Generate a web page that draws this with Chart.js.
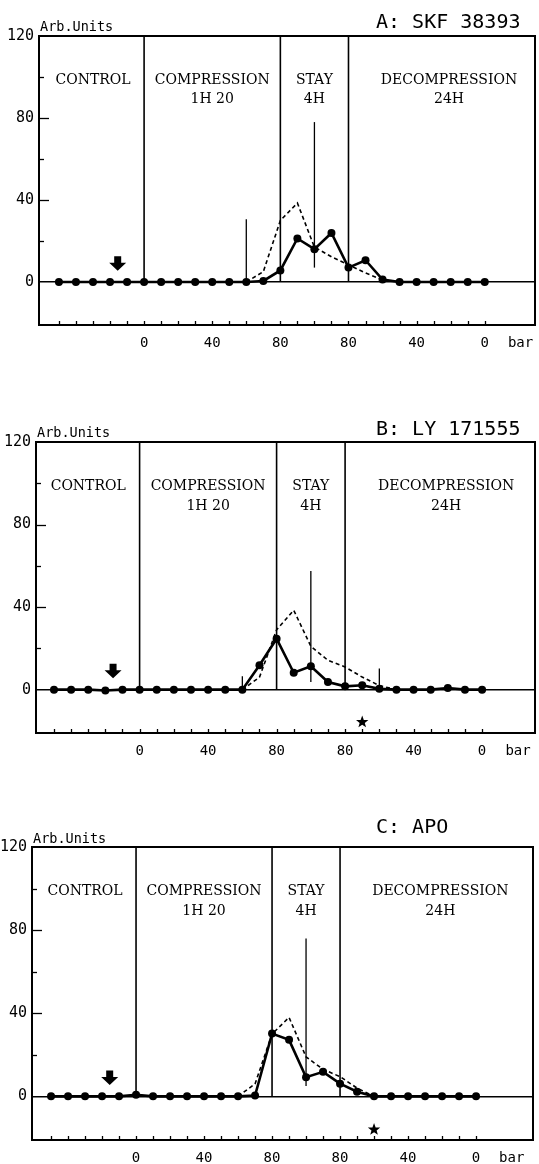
<!DOCTYPE html>
<html>
<head>
<meta charset="utf-8">
<title>Arb.Units - A: SKF 38393 / B: LY 171555 / C: APO</title>
<script src="https://cdn.jsdelivr.net/npm/chart.js@4.4.1/dist/chart.umd.min.js"></script>
<style>
  html, body { margin: 0; padding: 0; background: #fff; }
  body { width: 539px; height: 1164px; position: relative; overflow: hidden; }
  .panel { position: absolute; left: 0; width: 539px; }
  #panelA { top: 0; height: 355px; }
  #panelB { top: 400px; height: 365px; }
  #panelC { top: 800px; height: 364px; }
</style>
</head>
<body>
<div class="panel" id="panelA"><canvas id="chartA"></canvas></div>
<div class="panel" id="panelB"><canvas id="chartB"></canvas></div>
<div class="panel" id="panelC"><canvas id="chartC"></canvas></div>

<script>
// ---- Shared axis data ----
const sampleIdx = [0, 1, 2, 3, 4, 5, 6, 7, 8, 9, 10, 11, 12, 13, 14, 15, 16, 17, 18, 19, 20, 21, 22, 23, 24, 25];
const pressureTickIdx = [5, 9, 13, 17, 21, 25];
const pressureTickLabels = ["0", "40", "80", "80", "40", "0"];
const unitTickIdx = 27.1;
const unitTickLabel = "bar";
const yLabelValues = [0, 40, 80, 120];
const phaseBoundIdx = [5, 13, 17];
const phaseNames = ["CONTROL", "COMPRESSION", "STAY", "DECOMPRESSION"];
const phaseDurations = ["", "1H 20", "4H", "24H"];
const phaseCenterIdx = [2, 9, 15, 22.9];
const arrowIdx = 3.45, arrowTip = 5.5, arrowTop = 12.5;

// ---- Panel A ----
const titleA = "A: SKF 38393";
const drugA = [0, 0, 0, 0, 0, 0, 0, 0, 0, 0, 0, 0, 0.5, 5.6, 21.2, 16, 23.9, 7, 10.6, 1.2, 0, 0, 0, 0, 0, 0];
const refA = [null, null, null, null, null, null, null, null, null, null, null, 0, 5, 30, 38.5, 17, 12.3, 8.3, 4.4, 1, 0, null, null, null, null, null];
const spikeIdxA = [11, 15];
const spikeLowA = [0, 7];
const spikeHighA = [30.6, 78];
const starIdxA = [];
const starValA = [];

// ---- Panel B ----
const titleB = "B: LY 171555";
const drugB = [0, 0, 0, -0.4, 0, 0, 0, 0, 0, 0, 0, 0, 11.8, 24.7, 8.2, 11.3, 3.7, 1.6, 2.1, 0.4, 0, 0, 0, 0.8, 0, 0];
const refB = [null, null, null, null, null, null, null, null, null, null, null, 0, 6, 29, 38.5, 21, 14.2, 11, 6.1, 2, 0, null, null, null, null, null];
const spikeIdxB = [11, 15, 19];
const spikeLowB = [0, 3.7, 0];
const spikeHighB = [6.5, 57.5, 10.2];
const starIdxB = [18];
const starValB = [-15.7];

// ---- Panel C ----
const titleC = "C: APO";
const drugC = [0, 0, 0, 0, 0, 0.8, 0, 0, 0, 0, 0, 0, 0.4, 30.2, 27.2, 9.2, 11.8, 6.1, 2.2, 0, 0, 0, 0, 0, 0, 0];
const refC = [null, null, null, null, null, null, null, null, null, null, null, 0, 6, 30, 38, 19, 13, 9.5, 4, 0, null, null, null, null, null, null];
const spikeIdxC = [15];
const spikeLowC = [5];
const spikeHighC = [76];
const starIdxC = [19];
const starValC = [-16];

// ---- Fonts ----
const mono = '"DejaVu Sans Mono", monospace';
const serif = '"DejaVu Serif", serif';

// ---- Decorations: frame, inward ticks, phase labels, arrow, star, titles ----
const panelDecor = {
  id: "panelDecor",
  afterDraw(chart, args, opts) {
    const { ctx, chartArea: a, scales: { x, y } } = chart;
    ctx.save();
    ctx.strokeStyle = "#000";
    ctx.fillStyle = "#000";

    // frame
    ctx.lineWidth = 2;
    ctx.strokeRect(a.left, a.top, a.right - a.left, a.bottom - a.top);

    // y ticks point inward
    ctx.lineWidth = 1.3;
    y.ticks.forEach((t) => {
      if (t.value <= 0 || t.value >= 120 || t.value % 10 !== 0) return;
      const py = Math.round(y.getPixelForValue(t.value)) + 0.5;
      const len = t.value % 40 === 0 ? 10 : 5;
      ctx.beginPath();
      ctx.moveTo(a.left, py);
      ctx.lineTo(a.left + len, py);
      ctx.stroke();
    });
    // x ticks point inward
    sampleIdx.forEach((v) => {
      const px = Math.round(x.getPixelForValue(v)) + 0.5;
      ctx.beginPath();
      ctx.moveTo(px, a.bottom);
      ctx.lineTo(px, a.bottom - 4);
      ctx.stroke();
    });

    // phase labels
    ctx.font = "14px " + serif;
    ctx.textAlign = "center";
    ctx.textBaseline = "middle";
    phaseNames.forEach((name, i) => {
      const px = x.getPixelForValue(phaseCenterIdx[i]);
      ctx.fillText(name, px, y.getPixelForValue(98.5));
      if (phaseDurations[i]) ctx.fillText(phaseDurations[i], px, y.getPixelForValue(89));
    });

    // drug injection arrow
    const ax = x.getPixelForValue(arrowIdx);
    const tipY = y.getPixelForValue(arrowTip);
    const topY = y.getPixelForValue(arrowTop);
    const neck = topY + (tipY - topY) * 0.45;
    ctx.beginPath();
    ctx.moveTo(ax - 3.5, topY);
    ctx.lineTo(ax + 3.5, topY);
    ctx.lineTo(ax + 3.5, neck);
    ctx.lineTo(ax + 8.5, neck);
    ctx.lineTo(ax, tipY);
    ctx.lineTo(ax - 8.5, neck);
    ctx.lineTo(ax - 3.5, neck);
    ctx.closePath();
    ctx.fill();

    // significance stars
    opts.starIdx.forEach((s, i) => {
      const cx = x.getPixelForValue(s);
      const cy = y.getPixelForValue(opts.starVal[i]);
      ctx.beginPath();
      for (let k = 0; k < 10; k++) {
        const r = k % 2 === 0 ? 6.5 : 2.7;
        const ang = -Math.PI / 2 + (k * Math.PI) / 5;
        const px = cx + r * Math.cos(ang);
        const py = cy + r * Math.sin(ang);
        if (k === 0) ctx.moveTo(px, py);
        else ctx.lineTo(px, py);
      }
      ctx.closePath();
      ctx.fill();
    });

    // titles
    ctx.textAlign = "left";
    ctx.textBaseline = "alphabetic";
    ctx.font = "20px " + mono;
    ctx.fillText(opts.title, 376, a.top - opts.titleDy);
    ctx.font = "13.5px " + mono;
    ctx.fillText("Arb.Units", a.left + 1, a.top - opts.unitDy);
    ctx.restore();
  },
};

function lineSet(points, extra) {
  return Object.assign(
    {
      data: points,
      borderColor: "#000",
      backgroundColor: "#000",
      pointRadius: 0,
      borderWidth: 1.5,
      tension: 0,
    },
    extra
  );
}

function makePanel(canvasId, title, drug, ref, spikeIdx, spikeLow, spikeHigh, starIdx, starVal, geo) {
  const datasets = [];
  // main series (drawn on top)
  datasets.push(
    lineSet(
      sampleIdx.map((v, i) => ({ x: v, y: drug[i] })),
      { borderWidth: 2.6, pointRadius: 4, pointBorderWidth: 0, pointBackgroundColor: "#000" }
    )
  );
  // reference (dashed)
  datasets.push(
    lineSet(
      sampleIdx.map((v, i) => ({ x: v, y: ref[i] })),
      { borderWidth: 1.6, borderDash: [4, 3], spanGaps: false }
    )
  );
  // vertical spikes (upper bars)
  spikeIdx.forEach((s, i) => {
    datasets.push(lineSet([{ x: s, y: spikeLow[i] }, { x: s, y: spikeHigh[i] }], { borderWidth: 1.3 }));
  });
  // phase boundaries
  phaseBoundIdx.forEach((p) => {
    datasets.push(lineSet([{ x: p, y: 0 }, { x: p, y: 120 }], { borderWidth: 1.6 }));
  });

  return new Chart(document.getElementById(canvasId), {
    type: "line",
    data: { datasets: datasets },
    options: {
      responsive: true,
      maintainAspectRatio: false,
      animation: false,
      events: [],
      layout: { padding: { top: geo.top, right: geo.rightPad, left: 0, bottom: 0 } },
      plugins: {
        legend: { display: false },
        tooltip: { enabled: false },
        panelDecor: { title: title, titleDy: geo.titleDy, unitDy: geo.unitDy, starIdx: starIdx, starVal: starVal },
      },
      scales: {
        x: {
          type: "linear",
          min: geo.xMin,
          max: geo.xMax,
          grid: { display: false },
          border: { display: false },
          afterBuildTicks: (s) => {
            s.ticks = sampleIdx.concat([unitTickIdx]).map((v) => ({ value: v }));
          },
          afterFit: (s) => {
            s.height = geo.bottomH;
            s.paddingLeft = 0;
            s.paddingRight = 0;
          },
          ticks: {
            autoSkip: false,
            maxRotation: 0,
            padding: 2,
            color: "#000",
            font: { family: mono, size: 14 },
            callback: (v) => {
              if (v === unitTickIdx) return unitTickLabel;
              const k = pressureTickIdx.indexOf(v);
              return k >= 0 ? pressureTickLabels[k] : "";
            },
          },
        },
        y: {
          min: -21,
          max: 120,
          border: { display: false },
          grid: {
            drawTicks: false,
            color: (c) => (c.tick && c.tick.value === 0 ? "#000" : "rgba(0,0,0,0)"),
            lineWidth: 1.5,
          },
          afterFit: (s) => {
            s.width = geo.leftW;
            s.paddingTop = 0;
            s.paddingBottom = 0;
          },
          ticks: {
            stepSize: 10,
            padding: 5,
            color: "#000",
            font: { family: mono, size: 15 },
            callback: (v) => (yLabelValues.includes(v) ? String(v) : ""),
          },
        },
      },
    },
    plugins: [panelDecor],
  });
}

// ---- Build ----
makePanel("chartA", titleA, drugA, refA, spikeIdxA, spikeLowA, spikeHighA, starIdxA, starValA,
  { xMin: -1.17, xMax: 27.95, top: 36, rightPad: 2, leftW: 39, bottomH: 30, titleDy: 8, unitDy: 5 });
makePanel("chartB", titleB, drugB, refB, spikeIdxB, spikeLowB, spikeHighB, starIdxB, starValB,
  { xMin: -1.05, xMax: 28.09, top: 42, rightPad: 3, leftW: 36, bottomH: 32, titleDy: 7, unitDy: 5 });
makePanel("chartC", titleC, drugC, refC, spikeIdxC, spikeLowC, spikeHighC, starIdxC, starValC,
  { xMin: -1.12, xMax: 28.35, top: 47, rightPad: 6, leftW: 32, bottomH: 24, titleDy: 14, unitDy: 4 });
</script>
</body>
</html>
